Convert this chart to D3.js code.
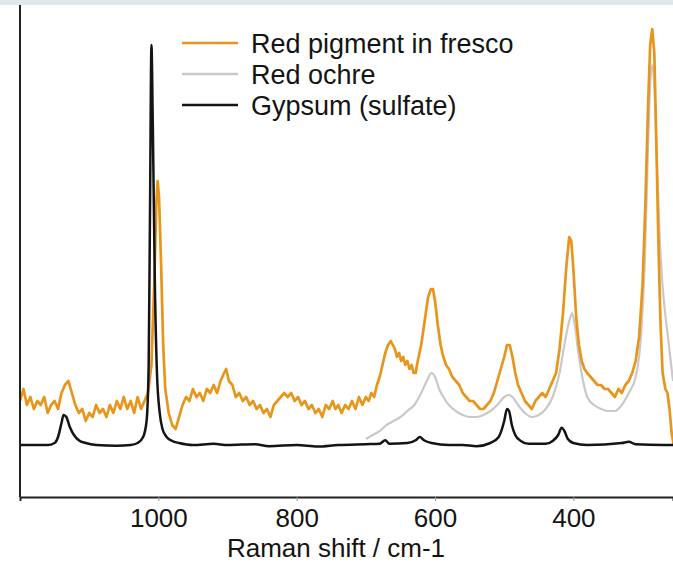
<!DOCTYPE html>
<html>
<head>
<meta charset="utf-8">
<script src="https://cdn.jsdelivr.net/npm/d3@7"></script>
<style>
  body { margin: 0; background: #fff; }
  svg { display: block; }
  text { font-family: "Liberation Sans", Arial, Helvetica, sans-serif; fill: #141414; }
</style>
</head>
<body>
<div id="chart"></div>
<script>
// Raman spectra, [shift cm-1, intensity]
const xTicks = [1000, 800, 600, 400];
const legendLabels = ["Red pigment in fresco", "Red ochre", "Gypsum (sulfate)"];

const fresco = [
  [1200, 11], [1195, 14], [1190, 10], [1185, 12], [1180, 9], [1175, 11], [1170, 10], [1165, 12],
  [1160, 8], [1155, 10], [1150, 11], [1145, 9], [1140, 13], [1135, 15], [1130, 16], [1125, 13],
  [1120, 10], [1115, 8], [1110, 9], [1105, 6], [1100, 8], [1095, 7], [1090, 10], [1085, 8],
  [1080, 9], [1075, 7], [1070, 10], [1065, 8], [1060, 11], [1055, 9], [1050, 12], [1045, 9],
  [1040, 11], [1035, 8], [1030, 12], [1025, 9], [1020, 11], [1015, 13], [1010, 20], [1006, 40],
  [1003, 60], [1001, 66], [999, 62], [996, 45], [993, 25], [990, 14], [985, 8], [980, 5],
  [975, 4], [970, 7], [965, 10], [960, 12], [955, 11], [950, 14], [945, 12], [940, 13],
  [935, 11], [930, 14], [925, 13], [920, 15], [915, 13], [910, 16], [905, 18], [902, 19],
  [898, 16], [893, 15], [888, 12], [883, 13], [878, 11], [873, 12], [868, 10], [863, 11],
  [858, 9], [853, 10], [848, 8], [843, 9], [838, 7], [833, 10], [828, 11], [823, 12],
  [818, 13], [813, 12], [808, 13], [803, 11], [798, 12], [793, 10], [788, 11], [783, 9],
  [778, 10], [773, 8], [768, 9], [763, 7], [758, 10], [753, 9], [748, 11], [744, 9],
  [740, 10], [735, 8], [730, 10], [725, 9], [720, 11], [715, 9], [710, 12], [705, 10],
  [700, 12], [696, 11], [692, 13], [688, 12], [684, 15], [680, 17], [676, 20], [672, 23],
  [668, 25], [664, 26], [661, 25], [658, 24], [655, 22], [652, 23], [649, 21], [646, 22],
  [643, 20], [640, 21], [637, 19], [634, 20], [631, 18], [628, 18], [625, 21], [620, 25],
  [615, 31], [610, 37], [606, 39], [603, 39], [600, 36], [596, 30], [592, 25],
  [588, 22], [584, 20], [580, 19], [575, 17], [570, 16], [565, 15], [560, 13], [555, 12],
  [550, 11], [545, 11], [540, 10], [535, 9], [530, 9], [525, 10], [520, 11], [515, 13],
  [510, 16], [505, 19], [500, 22], [496, 25], [492, 25], [488, 22], [484, 18], [480, 15],
  [475, 13], [470, 11], [465, 10], [460, 9], [455, 11], [450, 12], [445, 13], [440, 12],
  [435, 14], [430, 16], [425, 18], [420, 24], [415, 33], [410, 45], [406, 52], [403, 51],
  [400, 44], [396, 32], [392, 25], [388, 21], [384, 19], [380, 18], [375, 17], [370, 16],
  [365, 15], [360, 15], [355, 14], [350, 14], [345, 13], [340, 12], [335, 14], [330, 13],
  [325, 15], [320, 16], [315, 18], [310, 21], [305, 27], [300, 40], [296, 60], [292, 85],
  [289, 100], [286, 104], [283, 98], [280, 75], [277, 50], [274, 30], [271, 18], [267, 14],
  [264, 13], [261, 9], [258, 3], [255, 0]
];

const ochre = [
  [700, 1.5], [690, 2.5], [680, 3.5], [670, 5], [660, 6], [650, 7], [640, 8.5], [630, 10],
  [620, 13], [612, 16], [605, 18], [600, 17], [594, 14], [588, 12], [580, 10], [570, 8.5],
  [560, 7.5], [550, 7], [540, 7], [530, 7.5], [520, 8.5], [510, 10], [500, 12], [494, 12.5],
  [488, 12], [480, 10], [470, 8], [460, 7], [450, 7.5], [440, 9], [430, 12], [420, 18],
  [412, 26], [406, 31], [402, 33], [398, 30], [392, 22], [386, 16], [380, 12], [370, 10],
  [360, 9], [350, 8.5], [340, 8.5], [330, 10], [320, 13], [310, 17], [302, 28], [296, 50],
  [292, 75], [289, 90], [286, 95], [283, 90], [280, 75], [276, 55], [272, 42], [268, 34],
  [264, 28], [260, 22], [256, 16]
];

const gypsum = [
  [1200, 0], [1160, 0], [1150, 0.5], [1145, 2], [1140, 5.5], [1137, 7.5], [1133, 7], [1128, 4.5],
  [1122, 2.5], [1115, 1.2], [1105, 0.5], [1090, 0], [1060, -0.2], [1040, 0], [1030, 0.5],
  [1022, 2], [1017, 6], [1014, 20], [1012, 60], [1010, 100], [1008, 80], [1005, 40], [1002, 18],
  [998, 8], [994, 4], [988, 2], [980, 1], [970, 0.5], [950, 0], [920, 0.3], [900, 0],
  [860, 0.2], [840, -0.3], [800, 0], [770, -0.4], [740, 0], [700, 0.2], [680, 0.3], [672, 1.2],
  [666, 0.3], [640, 0.5], [628, 1.2], [622, 2], [616, 1.2], [605, 0.5], [580, 0], [560, 0],
  [540, -0.3], [520, 0.5], [508, 2], [500, 6], [496, 9], [493, 8.5], [489, 5], [484, 2.5],
  [476, 1], [465, 0.3], [440, 0.3], [430, 1], [422, 2.5], [417, 4.3], [413, 3.5], [408, 1.5],
  [400, 0.5], [380, 0], [330, 0.5], [320, 0.8], [310, 0.2], [270, 0], [255, 0]
];

const W = 673, H = 563;
const plot = { left: 20, right: 673, top: 5, bottom: 497 };
const colors = { fresco: "#e8951c", ochre: "#cbc8cc", gypsum: "#141414" };

const svg = d3.select("#chart").append("svg").attr("width", W).attr("height", H);

// faint band along the top, from the source scan
svg.append("rect").attr("x", 0).attr("y", 0).attr("width", W).attr("height", 5).attr("fill", "#e3e7ea");

const x = d3.scaleLinear().domain([1200, 256]).range([plot.left, plot.right]);
const y = d3.scaleLinear().domain([-13, 110]).range([plot.bottom, plot.top]);

svg.append("clipPath").attr("id", "clip")
  .append("rect")
  .attr("x", plot.left).attr("y", plot.top)
  .attr("width", plot.right - plot.left).attr("height", plot.bottom - plot.top);

const g = svg.append("g").attr("clip-path", "url(#clip)");

const smooth = d3.line().x(d => x(d[0])).y(d => y(d[1])).curve(d3.curveMonotoneX);
const raw = d3.line().x(d => x(d[0])).y(d => y(d[1]));

g.append("path").datum(ochre).attr("d", smooth)
  .attr("fill", "none").attr("stroke", colors.ochre).attr("stroke-width", 2.2);
g.append("path").datum(fresco).attr("d", raw)
  .attr("fill", "none").attr("stroke", colors.fresco).attr("stroke-width", 2.7)
  .attr("stroke-linejoin", "round");
g.append("path").datum(gypsum).attr("d", smooth)
  .attr("fill", "none").attr("stroke", colors.gypsum).attr("stroke-width", 2.5);

// axes
const xAxis = d3.axisBottom(x).tickValues(xTicks).tickFormat(d3.format("d"))
  .tickSize(4).tickPadding(8);
const ax = svg.append("g").attr("transform", `translate(0,${plot.bottom})`).call(xAxis);
ax.select(".domain").attr("stroke", "#222").attr("stroke-width", 2);
ax.selectAll(".tick line").attr("stroke", "#999");
ax.selectAll(".tick text").attr("font-size", 26).attr("fill", "#141414")
  .attr("font-family", "'Liberation Sans', Arial, sans-serif");

svg.append("line")
  .attr("x1", plot.left).attr("x2", plot.left)
  .attr("y1", plot.top).attr("y2", plot.bottom)
  .attr("stroke", "#222").attr("stroke-width", 2);

svg.append("text")
  .attr("x", 336).attr("y", 557)
  .attr("text-anchor", "middle")
  .attr("font-size", 26)
  .text("Raman shift / cm-1");

// legend
const legend = svg.append("g").attr("transform", "translate(182,43)");
const legendColors = [colors.fresco, colors.ochre, colors.gypsum];
legendLabels.forEach((label, i) => {
  const row = legend.append("g").attr("transform", `translate(0,${i * 31})`);
  row.append("line").attr("x1", 0).attr("x2", 56).attr("y1", 0).attr("y2", 0)
    .attr("stroke", legendColors[i]).attr("stroke-width", 2.4);
  row.append("text").attr("x", 69).attr("y", 10).attr("font-size", 27).text(label);
});
</script>
</body>
</html>
